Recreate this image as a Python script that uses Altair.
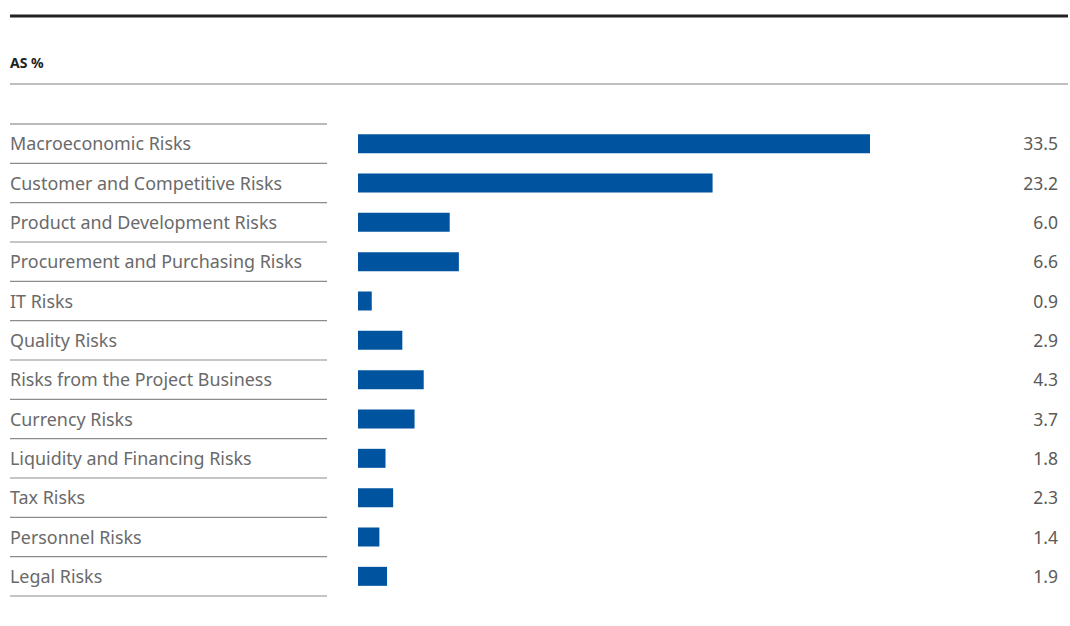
import altair as alt
import pandas as pd

categories = [
    "Macroeconomic Risks",
    "Customer and Competitive Risks",
    "Product and Development Risks",
    "Procurement and Purchasing Risks",
    "IT Risks",
    "Quality Risks",
    "Risks from the Project Business",
    "Currency Risks",
    "Liquidity and Financing Risks",
    "Tax Risks",
    "Personnel Risks",
    "Legal Risks",
]
values = [33.5, 23.2, 6.0, 6.6, 0.9, 2.9, 4.3, 3.7, 1.8, 2.3, 1.4, 1.9]
unit_label = "AS %"

df = pd.DataFrame({"cat": categories, "val": values,
                   "lab": [f"{v:.1f}" for v in values]})

W, H = 1070, 626
yscale = alt.Scale(domain=categories, range=[124, 596], paddingInner=0, paddingOuter=0)
xscale = alt.Scale(domain=[0, 33.5], range=[358, 870])
FONT = "Noto Sans"

base = alt.Chart(df)

y_enc = alt.Y("cat:N", scale=yscale, axis=None, sort=categories)

bars = base.mark_bar(color="#00539F", height=19).encode(
    x=alt.X("val:Q", scale=xscale, axis=None),
    y=y_enc,
)

labels = base.mark_text(align="left", baseline="middle", font=FONT, fontSize=17.9,
                        color="#6a6a6a", dy=1.5).encode(
    x=alt.value(10), y=y_enc, text="cat:N")

vals = base.mark_text(align="right", baseline="middle", font=FONT, fontSize=17.5,
                      color="#5a5a5a", dy=1.5).encode(
    x=alt.value(1058), y=y_enc, text="lab:N")

sep_bottom = base.mark_rule(color="#8c8c8c", strokeWidth=1.2).encode(
    x=alt.value(10), x2=alt.value(327),
    y=alt.Y("cat:N", scale=yscale, axis=None, sort=categories, bandPosition=1))

sep_top = alt.Chart(df.iloc[:1]).mark_rule(color="#777777", strokeWidth=1.2).encode(
    x=alt.value(10), x2=alt.value(327),
    y=alt.Y("cat:N", scale=yscale, axis=None, sort=categories, bandPosition=0))

top_line = alt.Chart(pd.DataFrame({"a": [0]})).mark_rule(color="#222222", strokeWidth=3).encode(
    x=alt.value(10), x2=alt.value(1068), y=alt.value(16))

grey_line = alt.Chart(pd.DataFrame({"a": [0]})).mark_rule(color="#aaaaaa", strokeWidth=1.3).encode(
    x=alt.value(10), x2=alt.value(1068), y=alt.value(84))

unit = alt.Chart(pd.DataFrame({"t": [unit_label]})).mark_text(
    align="left", baseline="middle", font=FONT, fontSize=14, fontWeight="bold",
    color="#222222").encode(x=alt.value(10), y=alt.value(64), text="t:N")

chart = alt.layer(top_line, grey_line, unit, sep_top, sep_bottom, bars, labels, vals).properties(
    width=W, height=H, padding=0, autosize=alt.AutoSizeParams(type="none")
).configure_view(stroke=None)

chart.save("out.html", embed_options={"renderer": "svg", "actions": False})
